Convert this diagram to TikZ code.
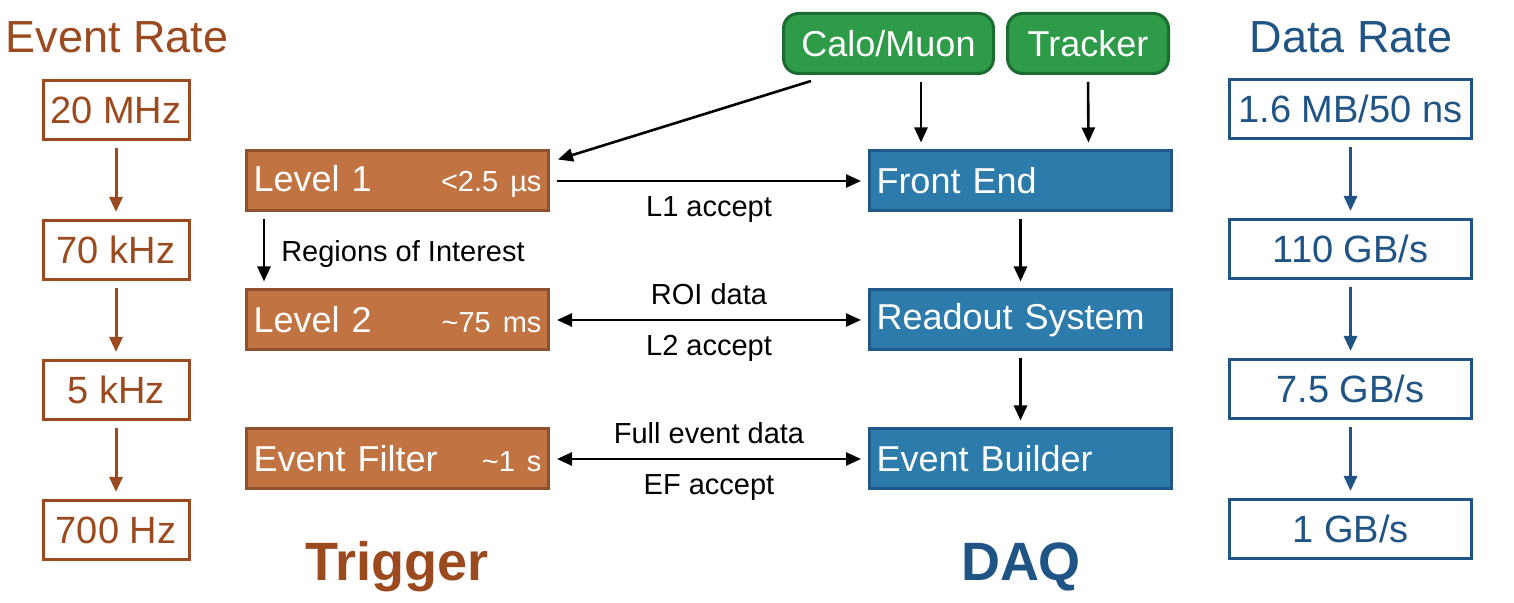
\documentclass[tikz,border=0pt]{standalone}
\usepackage{fontspec}
\setmainfont{Liberation Sans}
\usetikzlibrary{arrows.meta,positioning}

\definecolor{rust}{RGB}{154,74,30}
\definecolor{rustfill}{RGB}{193,116,66}
\definecolor{rustline}{RGB}{143,80,45}
\definecolor{navy}{RGB}{31,84,133}
\definecolor{skyfill}{RGB}{44,123,171}
\definecolor{skyline}{RGB}{30,87,136}
\definecolor{leaf}{RGB}{46,155,73}
\definecolor{leafline}{RGB}{28,107,48}

\newcommand\fbig{\fontsize{18}{21}\selectfont}
\newcommand\fsml{\fontsize{14.5}{17}\selectfont}

\tikzset{
  ratebox/.style={draw,line width=1.5pt,fill=white,minimum width=#1,
    minimum height=29.5pt,inner sep=0pt,font=\fontsize{19}{22}\selectfont},
  stage/.style={draw,line width=1.5pt,text=white,text width=144pt,
    inner xsep=3.5pt,inner ysep=0pt,minimum height=30pt,align=left,font=\fbig},
  trig/.style={stage,fill=rustfill,draw=rustline},
  daq/.style={stage,fill=skyfill,draw=skyline},
  det/.style={draw=leafline,fill=leaf,line width=1.5pt,rounded corners=7.5pt,
    text=white,minimum height=30pt,inner ysep=0pt,font=\fbig},
  title/.style={font=\fontsize{22.5}{26}\selectfont},
  head/.style={font=\fontsize{27}{30}\selectfont\bfseries,anchor=base},
  lbl/.style={font=\fsml,inner sep=0pt}
}

\begin{document}
\begin{tikzpicture}[x=0.5pt,y=-0.5pt,
  >={Triangle[length=7.5pt,width=6.5pt]},
  shorten >=3.5pt,shorten <=3.5pt]
\useasboundingbox (0,0) rectangle (1514,603);

\node[title,text=rust] (evrate) at (117,37) {Event Rate};
\node[title,text=navy] (dtrate) at (1351,37) {Data Rate};
\foreach \t [count=\i] in {20 MHz,70 kHz,5 kHz,700 Hz}
  \node[ratebox=73pt,draw=rust,text=rust] (r\i) at (116,{110+140*(\i-1)}) {\t};
\foreach \t [count=\i] in {1.6 MB/50 ns,110 GB/s,7.5 GB/s,1 GB/s}
  \node[ratebox=121pt,draw=navy,text=navy] (d\i) at (1350.5,{109+140*(\i-1)}) {\t};
\foreach \i/\j in {1/2,2/3,3/4}{
  \path[->,draw=rust,fill=rust,line width=1.5pt] (r\i) edge (r\j);
  \path[->,draw=navy,fill=navy,line width=1.5pt] (d\i) edge (d\j);
}

\node[trig] (lvlone) at (397.5,181) {Level 1\hfill{\fsml <2.5 µs}};
\node[trig] (lvltwo) at (397.5,320) {Level 2\hfill{\fsml \textasciitilde75 ms}};
\node[trig] (filt) at (397.5,459) {Event Filter\hfill{\fsml \textasciitilde1 s}};
\node[daq] (fe) at (1020.5,181) {Front End};
\node[daq] (ros) at (1020.5,320) {Readout System};
\node[daq] (evb) at (1020.5,459) {Event Builder};
\node[det,minimum width=105pt] (calo) at (888.5,43.5) {Calo/Muon};
\node[det,minimum width=80.5pt] (trk) at (1088,43.5) {Tracker};

\node[head,text=rust] (trigger) at (397,580) {Trigger};
\node[head,text=navy] (daqtitle) at (1021,580) {DAQ};

\path[->,line width=1.3pt]
([xshift=14.5pt,yshift=-3pt]calo.south west) edge[shorten <=0pt,shorten >=0pt]
  ([xshift=4pt,yshift=-5pt]lvlone.north east);
\path[->,line width=1.3pt]
([xshift=16.25pt]calo.south) edge ([xshift=-49.75pt]fe.north);
\path[->,line width=1.3pt]
(trk.south) edge ([xshift=34pt]fe.north);
\path[->,line width=1.3pt]
(lvlone) edge node[lbl,below=7pt]{L1 accept} (fe);
\path[->,line width=1.3pt]
([xshift=9.5pt]lvlone.south west) edge node[lbl,right=8pt,yshift=-2pt]{Regions of Interest}
  ([xshift=9.5pt]lvltwo.north west);
\path[<->,line width=1.3pt]
(lvltwo) edge node[lbl,above=7pt]{ROI data} node[lbl,below=7pt]{L2 accept} (ros);
\path[<->,line width=1.3pt]
(filt) edge node[lbl,above=7pt]{Full event data} node[lbl,below=7pt]{EF accept} (evb);
\path[->,line width=1.3pt]
(fe) edge (ros);
\path[->,line width=1.3pt]
(ros) edge (evb);
\end{tikzpicture}
\end{document}
